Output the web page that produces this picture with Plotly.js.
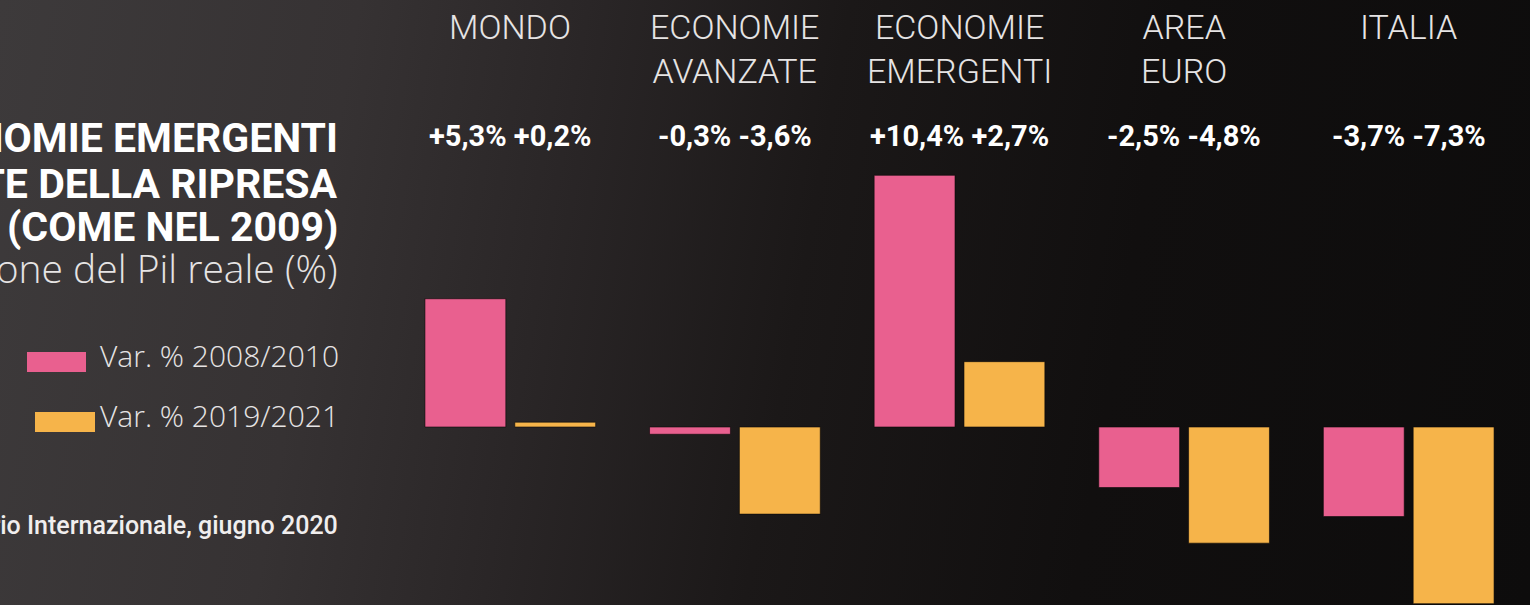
<!DOCTYPE html>
<html>
<head>
<meta charset="utf-8">
<script src="https://cdn.plot.ly/plotly-3.0.1.min.js"></script>
<style>
html,body{margin:0;padding:0;width:1530px;height:605px;overflow:hidden;}
body{background:linear-gradient(100deg,#3d3a3b 0%,#363233 22%,#2a2627 36%,#1b1818 52%,#110f0f 72%,#0d0c0c 100%);}
#chart{width:1530px;height:605px;}
</style>
</head>
<body>
<div id="chart"></div>
<script>
const categories = ["MONDO", "ECONOMIE<br>AVANZATE", "ECONOMIE<br>EMERGENTI", "AREA<br>EURO", "ITALIA"];
const series1Name = "Var. % 2008/2010";
const series2Name = "Var. % 2019/2021";
const series1 = [5.3, -0.3, 10.4, -2.5, -3.7];
const series2 = [0.2, -3.6, 2.7, -4.8, -7.3];
const titleLines = ["LE ECONOMIE EMERGENTI", "PROTAGONISTE DELLA RIPRESA", "(COME NEL 2009)"];
const subtitle = "Variazione del Pil reale (%)";
const source = "Fonte: Fondo Monetario Internazionale, giugno 2020";

const PINK = "#e9608f", YELLOW = "#f6b44a";
const W = 1530, H = 605, ML = 398, MR = 9, MT = 160, MB = 0;
const PW = W - ML - MR, PH = H - MT - MB;
const px = x => (x - ML) / PW;          // pixel -> paper x
const py = y => (H - MB - y) / PH;      // pixel -> paper y

const idx = categories.map((c, i) => i);
const fmt = v => (v > 0 ? "+" : "-") + Math.abs(v).toFixed(1).replace(".", ",") + "%";

const traces = [
  {type: "bar", x: idx, y: series1, name: series1Name, marker: {color: PINK, line: {color: "rgba(10,8,8,0.6)", width: 1}}, hoverinfo: "skip"},
  {type: "bar", x: idx, y: series2, name: series2Name, marker: {color: YELLOW, line: {color: "rgba(10,8,8,0.6)", width: 1}}, hoverinfo: "skip"}
];

const boldFont = "Roboto, sans-serif";
const lightFont = "Roboto, sans-serif";
const openFont = "'Open Sans', Roboto, sans-serif";
const ann = [];
// category headers
categories.forEach((c, i) => ann.push({
  x: i, xref: "x", y: py(5), yref: "paper", yanchor: "top", xanchor: "center",
  text: c, showarrow: false, align: "center",
  font: {family: lightFont, size: 34, color: "#e6e4e4", weight: 300}
}));
// value labels
categories.forEach((c, i) => ann.push({
  x: i, xref: "x", y: py(155), yref: "paper", yanchor: "bottom", xanchor: "center",
  text: fmt(series1[i]) + " " + fmt(series2[i]), showarrow: false,
  font: {family: boldFont, size: 29, color: "#ffffff", weight: 700}
}));
// title
const titleBottoms = [164, 210, 253];
titleLines.forEach((t, k) => ann.push({
  x: px(340), xref: "paper", y: py(titleBottoms[k]), yref: "paper", xanchor: "right", yanchor: "bottom",
  text: t, showarrow: false, align: "right",
  font: {family: boldFont, size: 41, color: "#ffffff", weight: 700}
}));
ann.push({
  x: px(340), xref: "paper", y: py(296), yref: "paper", xanchor: "right", yanchor: "bottom",
  text: subtitle, showarrow: false, align: "right",
  font: {family: openFont, size: 39, color: "#e6e4e4", weight: 300}
});
// legend
const legItems = [
  {name: series1Name, color: PINK, sx0: 27, sx1: 86, sy0: 352, sy1: 372, ty: 378},
  {name: series2Name, color: YELLOW, sx0: 35, sx1: 95, sy0: 412, sy1: 432, ty: 438}
];
const shapes = [];
legItems.forEach(l => {
  shapes.push({type: "rect", xref: "paper", yref: "paper", x0: px(l.sx0), x1: px(l.sx1), y0: py(l.sy1), y1: py(l.sy0),
    fillcolor: l.color, line: {width: 0}});
  ann.push({x: px(341), xref: "paper", y: py(l.ty), yref: "paper", xanchor: "right", yanchor: "bottom",
    text: l.name, showarrow: false, font: {family: openFont, size: 30, color: "#e6e4e4", weight: 300}});
});
ann.push({
  x: px(340), xref: "paper", y: py(542), yref: "paper", xanchor: "right", yanchor: "bottom",
  text: source, showarrow: false, font: {family: lightFont, size: 25, color: "#f0eeee", weight: 500}
});

const layout = {
  width: W, height: H,
  margin: {l: ML, r: MR, t: MT, b: MB, pad: 0},
  paper_bgcolor: "rgba(0,0,0,0)", plot_bgcolor: "rgba(0,0,0,0)",
  barmode: "group", bargap: 0.2, bargroupgap: 0.1,
  showlegend: false,
  xaxis: {range: [-0.5, 4.5], visible: false, fixedrange: true},
  yaxis: {range: [-(H - MB - 427) / 24.2, (427 - MT) / 24.2], visible: false, fixedrange: true, zeroline: false},
  annotations: ann, shapes: shapes
};
Plotly.newPlot("chart", traces, layout, {displayModeBar: false, staticPlot: true});
</script>
</body>
</html>
